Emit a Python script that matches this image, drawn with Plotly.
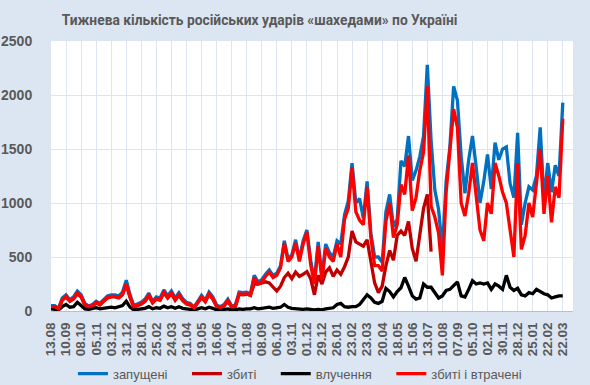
import pandas as pd
import plotly.graph_objects as go

# Weekly counts, week starting 13.08.2023
start_date = "2023-08-13"

launched = [50, 50, 25, 120, 150, 105, 130, 185, 150, 70,
            45, 60, 90, 70, 105, 140, 150, 150, 140, 175,
            285, 150, 50, 65, 80, 110, 165, 90, 130, 120,
            195, 140, 185, 120, 170, 115, 80, 70, 35, 90,
            145, 100, 175, 130, 55, 40, 60, 110, 45, 55,
            175, 170, 175, 160, 330, 270, 290, 340, 380, 330,
            350, 420, 650, 480, 520, 660, 480, 650, 750, 470,
            280, 640, 320, 620, 540, 500, 650, 620, 890, 1020,
            1370, 1000, 1040, 860, 1200, 720, 500, 500, 450, 920,
            1080, 780, 850, 1390, 1340, 1620, 1210, 1300, 1430, 1620,
            2280, 1580, 1120, 940, 560, 1200, 1520, 2080, 1950, 1430,
            1090, 1400, 1620, 1330, 1000, 1200, 1450, 1130, 1560, 1400,
            1500, 1520, 1180, 1050, 1650, 800, 1000, 1150, 1120, 1250,
            1700, 1020, 1370, 1100, 1350, 1250, 1930]

shot_down = [38, 38, 18, 100, 130, 90, 110, 160, 130, 55,
             35, 45, 75, 55, 90, 120, 130, 130, 120, 150,
             245, 125, 35, 50, 65, 90, 140, 75, 110, 100,
             170, 120, 160, 100, 145, 95, 65, 55, 28, 75,
             125, 85, 155, 110, 40, 30, 45, 90, 35, 40,
             155, 150, 155, 145, 250, 250, 260, 270, 260, 220,
             185, 230, 310, 350, 300, 360, 320, 340, 365, 300,
             150, 330, 250, 360, 400, 320, 380, 340, 410, 500,
             740, 640, 620, 600, 660, 470, 260, 170, 230, 420,
             560, 470, 700, 740, 700, 830, 580, 460, 700, 950,
             1080, 550]

hits = [20, 15, 10, 40, 60, 35, 40, 80, 50, 20,
        15, 20, 30, 20, 25, 30, 35, 30, 40, 50,
        90, 35, 10, 15, 20, 25, 40, 20, 30, 25,
        45, 30, 40, 25, 40, 25, 20, 15, 10, 20,
        30, 20, 35, 25, 10, 10, 15, 20, 10, 10,
        20, 15, 20, 20, 30, 20, 25, 30, 35, 25,
        30, 35, 60, 35, 25, 20, 15, 15, 20, 15,
        10, 15, 10, 20, 25, 30, 60, 70, 40, 35,
        40, 40, 60, 110, 150, 120, 80, 70, 90, 210,
        180, 130, 180, 215, 310, 230, 140, 110, 120, 250,
        220, 220, 170, 120, 140, 190, 200, 230, 270, 140,
        130, 200, 280, 250, 260, 250, 260, 200, 250, 230,
        200, 330, 220, 190, 210, 150, 140, 170, 160, 200,
        180, 160, 150, 120, 130, 140, 140]

shot_and_lost = [40, 40, 20, 105, 135, 95, 115, 165, 135, 60,
                 40, 50, 80, 60, 95, 125, 135, 135, 125, 155,
                 250, 130, 40, 55, 70, 95, 145, 80, 115, 105,
                 175, 125, 165, 105, 150, 100, 70, 60, 30, 80,
                 130, 90, 160, 115, 45, 35, 50, 95, 40, 45,
                 160, 155, 160, 145, 310, 250, 270, 320, 360, 310,
                 330, 400, 630, 460, 500, 630, 460, 620, 730, 430,
                 250, 600, 290, 580, 500, 460, 620, 500, 850, 950,
                 1330, 920, 840, 800, 1150, 680, 420, 420, 370, 830,
                 1000, 680, 800, 1170, 1080, 1440, 930, 1050, 1300, 1470,
                 2080, 970, 870, 720, 330, 1100, 1460, 1870, 1700, 1000,
                 880, 1090, 1370, 1060, 750, 650, 1000, 900, 1370, 1250,
                 1100, 1000, 760, 500, 1370, 570, 700, 1000, 870, 1200,
                 1500, 900, 1250, 820, 1150, 1050, 1780]

series_names = ["запущені", "збиті", "влучення", "збиті і втрачені"]
title_text = "Тижнева кількість російських ударів «шахедами» по Україні"

weeks = pd.date_range(start_date, periods=len(launched), freq="7D")
tick_dates = pd.date_range(start_date, "2026-03-22", freq="28D")
tick_text = [d.strftime("%d.%m") for d in tick_dates]

grey = "#595959"
bg = "#DCE6F2"
pad = "\u00a0\u00a0\u00a0\u00a0"  # extra spacing between legend entries

fig = go.Figure()
fig.add_trace(go.Scatter(x=weeks, y=launched, name=series_names[0] + pad, mode="lines",
                         line=dict(color="#0070C0", width=3.3)))
fig.add_trace(go.Scatter(x=weeks[:len(shot_down)], y=shot_down, name=series_names[1] + pad, mode="lines",
                         line=dict(color="#C00000", width=3.3)))
fig.add_trace(go.Scatter(x=weeks, y=hits, name=series_names[2] + pad, mode="lines",
                         line=dict(color="#000000", width=3.3)))
fig.add_trace(go.Scatter(x=weeks, y=shot_and_lost, name=series_names[3], mode="lines",
                         line=dict(color="#FF0000", width=3.3)))

fig.update_layout(
    width=590, height=385,
    paper_bgcolor=bg, plot_bgcolor="white",
    margin=dict(l=51, r=17, t=41, b=74, autoexpand=False),
    title=dict(text="<b>" + title_text + "</b>", x=0.44, xanchor="center",
               y=0.948, yanchor="middle",
               font=dict(family="Roboto, Liberation Sans, Arial", size=13.8, color=grey)),
    showlegend=True,
    legend=dict(orientation="h", x=0.042, xanchor="left", y=-0.232, yanchor="middle",
                font=dict(family="Liberation Sans, Arial", size=13, color=grey),
                itemwidth=30, bgcolor="rgba(0,0,0,0)"),
    font=dict(family="Liberation Sans, Arial", color=grey),
)
fig.update_xaxes(
    type="date", automargin=False,
    range=[pd.Timestamp(start_date), pd.Timestamp("2026-04-10")],
    tickmode="array", tickvals=tick_dates, ticktext=["<b>" + t + "</b>" for t in tick_text],
    tickangle=-90, tickfont=dict(size=13.5, color=grey, family="Liberation Sans, Arial"),
    showgrid=True, gridcolor=bg, gridwidth=1,
    showline=True, linecolor="#BFBFBF", linewidth=1,
    ticks="outside", ticklen=5, tickcolor=bg, zeroline=False,
)
fig.update_yaxes(
    automargin=False,
    range=[0, 2500], tickmode="linear", tick0=0, dtick=500,
    tickfont=dict(size=14, color=grey, family="Liberation Sans, Arial", weight="bold"),
    showgrid=True, gridcolor=bg, gridwidth=1,
    zeroline=False, showline=False, ticks="outside", ticklen=15, tickcolor=bg,
)

fig.write_html(
    "out.html",
    config={"displayModeBar": False},
    post_script="document.body.style.margin='0';document.body.style.background='" + bg + "';",
)
